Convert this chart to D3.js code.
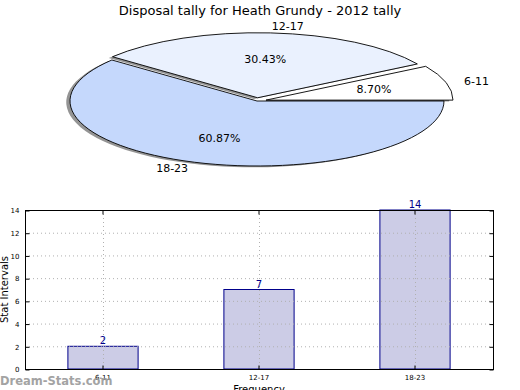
<!DOCTYPE html>
<html><head><meta charset="utf-8">
<script src="https://cdn.jsdelivr.net/npm/d3@7"></script>
<style>body{margin:0;background:#fff;} svg{display:block;font-family:"DejaVu Sans",sans-serif;}</style>
</head><body>
<svg id="c" width="520" height="390"></svg>
<script>
const title = "Disposal tally for Heath Grundy - 2012 tally";
const categories = ["6-11", "12-17", "18-23"];
const values = [2, 7, 14];
const pieColors = ["#ffffff", "#eaf1fe", "#c5d8fc"];
const explode = [0.05, 0.05, 0];
const yTicks = [0, 2, 4, 6, 8, 10, 12, 14];
const xLabel = "Frequency";
const yLabel = "Stat Intervals";
const watermark = "Dream-Stats.com";

const svg = d3.select("#c");
svg.append("text").attr("x", 260).attr("y", 15).attr("text-anchor", "middle")
  .attr("font-size", 13).text(title);

// ---- Pie ----
const cx = 257, cy = 101, rx = 187, ry = 65;
const pie = d3.pie().sort(null).startAngle(Math.PI / 2).endAngle(Math.PI / 2 - 2 * Math.PI);
const arcs = pie(values);
const total = d3.sum(values);
const arcGen = d3.arc().innerRadius(0).outerRadius(1);
const pieG = svg.append("g");
function off(d, i, k) {
  const m = (d.startAngle + d.endAngle) / 2;
  return [Math.sin(m) * k * rx, -Math.cos(m) * k * ry];
}
// shadows
arcs.forEach((d, i) => {
  const [dx, dy] = off(d, i, explode[i]);
  pieG.append("path").attr("d", arcGen(d))
    .attr("transform", `translate(${cx + dx - 0.02 * rx},${cy + dy + 0.02 * ry}) scale(${rx},${ry})`)
    .attr("fill", "#707070").attr("opacity", 0.75);
});
arcs.forEach((d, i) => {
  const [dx, dy] = off(d, i, explode[i]);
  pieG.append("path").attr("d", arcGen(d))
    .attr("transform", `translate(${cx + dx},${cy + dy}) scale(${rx},${ry})`)
    .attr("fill", pieColors[i]).attr("stroke", "#000").attr("stroke-width", 0.9)
    .attr("vector-effect", "non-scaling-stroke").attr("stroke-linejoin", "round");
});
arcs.forEach((d, i) => {
  const [dx, dy] = off(d, i, explode[i]);
  const m = (d.startAngle + d.endAngle) / 2;
  const sx = Math.sin(m), sy = -Math.cos(m);
  const lx = cx + dx + 1.1 * rx * sx, ly = cy + dy + 1.1 * ry * sy;
  pieG.append("text").attr("x", lx).attr("y", ly).attr("dy", "0.35em")
    .attr("text-anchor", sx > 0 ? "start" : "end").attr("font-size", 11).text(categories[i]);
  const px = cx + dx + 0.6 * rx * sx, py = cy + dy + 0.6 * ry * sy;
  pieG.append("text").attr("x", px).attr("y", py).attr("dy", "0.35em")
    .attr("text-anchor", "middle").attr("font-size", 11)
    .text((values[i] / total * 100).toFixed(2) + "%");
});

// ---- Bar ----
const L = 25, R = 493, T = 210, B = 369;
const x = d3.scaleBand().domain(categories).range([L, R]).padding(0);
const y = d3.scaleLinear().domain([0, 14]).range([B, T]);
const bw = x.bandwidth() * 0.45;
const g = svg.append("g");
g.selectAll("rect.bar").data(values).join("rect").attr("class", "bar")
  .attr("x", (d, i) => x(categories[i]) + x.bandwidth() / 2 - bw / 2)
  .attr("y", d => y(d)).attr("width", bw).attr("height", d => B - y(d))
  .attr("fill", "#ccccE6").attr("stroke", "#00008b").attr("stroke-width", 1);
// grid
yTicks.forEach(t => {
  g.append("line").attr("x1", L).attr("x2", R).attr("y1", y(t) + 0.5).attr("y2", y(t) + 0.5)
    .attr("stroke", "#b0b0b0").attr("stroke-dasharray", "1,3");
});
categories.forEach(c => {
  const xc = Math.round(x(c) + x.bandwidth() / 2) + 0.5;
  g.append("line").attr("x1", xc).attr("x2", xc).attr("y1", T).attr("y2", B)
    .attr("stroke", "#b0b0b0").attr("stroke-dasharray", "1,3");
});
// frame
g.append("rect").attr("x", L + 0.5).attr("y", T + 0.5).attr("width", R - L).attr("height", B - T)
  .attr("fill", "none").attr("stroke", "#000").attr("stroke-width", 1);
// ticks
const yAx = d3.axisLeft(y).tickValues(yTicks).tickSize(-4).tickPadding(6);
g.append("g").attr("transform", `translate(${L + 0.5},0.5)`).call(yAx)
  .call(s => s.select(".domain").remove())
  .call(s => s.selectAll("text").attr("font-size", 7).attr("font-family", "DejaVu Sans"));
const yAxR = d3.axisRight(y).tickValues(yTicks).tickSize(-4).tickFormat("");
g.append("g").attr("transform", `translate(${R + 0.5},0.5)`).call(yAxR)
  .call(s => s.select(".domain").remove());
const xAx = d3.axisBottom(x).tickSize(-4).tickPadding(6);
g.append("g").attr("transform", `translate(0,${B + 0.5})`).call(xAx)
  .call(s => s.select(".domain").remove())
  .call(s => s.selectAll("text").attr("font-size", 7).attr("font-family", "DejaVu Sans"));
const xAxT = d3.axisTop(x).tickSize(-4).tickFormat("");
g.append("g").attr("transform", `translate(0,${T + 0.5})`).call(xAxT)
  .call(s => s.select(".domain").remove());
// value labels
g.selectAll("text.val").data(values).join("text").attr("class", "val")
  .attr("x", (d, i) => x(categories[i]) + x.bandwidth() / 2).attr("y", d => y(d) - 2)
  .attr("text-anchor", "middle").attr("font-size", 10).attr("fill", "#00008b").text(d => d);
// axis labels
svg.append("text").attr("x", (L + R) / 2).attr("y", 393).attr("text-anchor", "middle")
  .attr("font-size", 10).text(xLabel);
svg.append("text").attr("transform", `translate(8,${(T + B) / 2}) rotate(-90)`)
  .attr("text-anchor", "middle").attr("font-size", 10).text(yLabel);
svg.append("text").attr("x", 0).attr("y", 385).attr("font-size", 11.5).attr("font-weight", "bold")
  .attr("fill", "#9a9a9a").attr("opacity", 0.9).text(watermark);
</script>
</body></html>
